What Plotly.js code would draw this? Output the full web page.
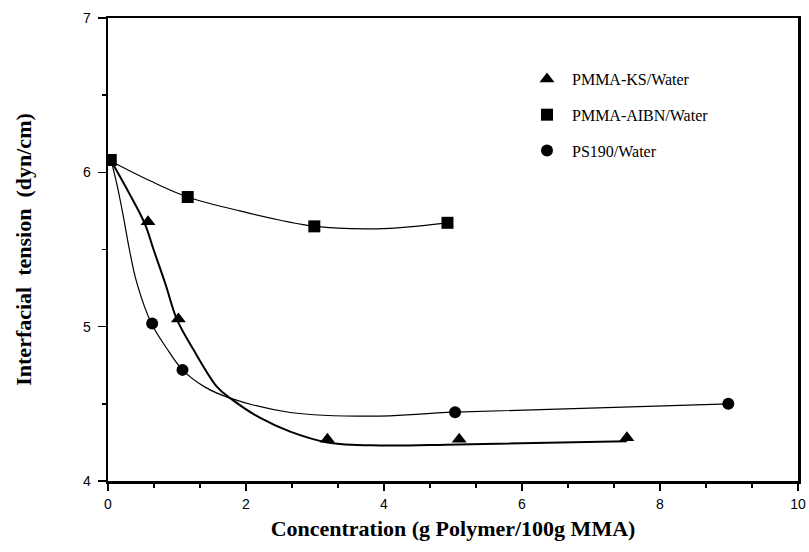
<!DOCTYPE html>
<html>
<head>
<meta charset="utf-8">
<script src="https://cdn.plot.ly/plotly-3.0.1.min.js"></script>
<style>html,body{margin:0;padding:0;background:#fff;}#chart{width:809px;height:552px;}</style>
</head>
<body>
<div id="chart"></div>
<script>
// Measured data points
const ksX = [0.58, 1.02, 3.18, 5.09, 7.52];
const ksY = [5.68, 5.05, 4.27, 4.27, 4.28];
const aibnX = [0.04, 1.155, 2.99, 4.92];
const aibnY = [6.08, 5.84, 5.65, 5.673];
const psX = [0.64, 1.08, 5.03, 8.99];
const psY = [5.02, 4.72, 4.445, 4.5];

// Fitted curves
const ksCurveX = [0.05, 0.3, 0.54, 0.66, 0.83, 1.0, 1.24, 1.58, 1.77, 2.2, 2.64, 3.18, 3.94, 5.08, 7.52];
const ksCurveY = [6.07, 5.87, 5.66, 5.5, 5.28, 5.045, 4.85, 4.61, 4.537, 4.41, 4.32, 4.25, 4.23, 4.237, 4.257];
const aibnCurveX = [0.05, 0.61, 1.155, 1.91, 2.99, 3.9, 4.92];
const aibnCurveY = [6.07, 5.945, 5.84, 5.75, 5.651, 5.634, 5.673];
const psCurveX = [0.05, 0.13, 0.22, 0.31, 0.42, 0.63, 0.85, 1.08, 1.4, 1.77, 2.64, 3.8, 5.03, 9.0];
const psCurveY = [6.07, 5.92, 5.72, 5.5, 5.28, 5.02, 4.86, 4.72, 4.61, 4.537, 4.444, 4.42, 4.446, 4.5];

const seriesNames = ['PMMA-KS/Water', 'PMMA-AIBN/Water', 'PS190/Water'];
const xTickVals = [0, 2, 4, 6, 8, 10];
const yTickVals = [4, 5, 6, 7];

const serif = 'Liberation Serif, Times New Roman, serif';
const sans = 'Liberation Sans, Arial, sans-serif';

const traces = [
  {x: psCurveX, y: psCurveY, mode: 'lines', line: {color: '#000', width: 1.2, shape: 'spline', smoothing: 1}, showlegend: false, hoverinfo: 'skip'},
  {x: ksCurveX, y: ksCurveY, mode: 'lines', line: {color: '#000', width: 2, shape: 'spline', smoothing: 1}, showlegend: false, hoverinfo: 'skip'},
  {x: aibnCurveX, y: aibnCurveY, mode: 'lines', line: {color: '#000', width: 1.2, shape: 'spline', smoothing: 1}, showlegend: false, hoverinfo: 'skip'},
  {x: ksX, y: ksY, mode: 'markers', name: seriesNames[0], legendgroup: 'a', marker: {symbol: 'triangle-up', size: 13, color: '#000'}},
  {x: aibnX, y: aibnY, mode: 'markers', name: seriesNames[1], legendgroup: 'b', marker: {symbol: 'square', size: 12, color: '#000'}},
  {x: psX, y: psY, mode: 'markers', name: seriesNames[2], legendgroup: 'c', marker: {symbol: 'circle', size: 12, color: '#000'}}
];

const layout = {
  width: 809, height: 552,
  margin: {l: 108, r: 11, t: 18, b: 71},
  paper_bgcolor: '#fff', plot_bgcolor: '#fff',
  showlegend: true,
  legend: {x: 0.6, y: 0.905, xanchor: 'left', yanchor: 'top', font: {family: serif, size: 16, color: '#000'}, tracegroupgap: 12, bgcolor: 'rgba(0,0,0,0)', itemwidth: 40},
  xaxis: {
    range: [0, 10], tickvals: xTickVals, ticktext: xTickVals.map(String),
    ticks: 'outside', ticklen: 7, tickwidth: 1.5, tickcolor: '#000',
    minor: {dtick: 2/3, ticks: 'outside', ticklen: 4, tickwidth: 1.5, tickcolor: '#000'},
    showline: true, linewidth: 2.5, linecolor: '#000', mirror: true,
    showgrid: false, zeroline: false, ticklabelstandoff: 2,
    tickfont: {family: sans, size: 14, color: '#000'},
    title: {text: 'Concentration (g Polymer/100g MMA)', font: {family: serif, size: 22, color: '#000', weight: 'bold'}, standoff: 10}
  },
  yaxis: {
    range: [4, 7], tickvals: yTickVals, ticktext: yTickVals.map(String),
    ticks: 'outside', ticklen: 8, tickwidth: 1.5, tickcolor: '#000',
    minor: {dtick: 0.5, ticks: 'outside', ticklen: 4, tickwidth: 1.5, tickcolor: '#000'},
    showline: true, linewidth: 2.5, linecolor: '#000', mirror: true,
    showgrid: false, zeroline: false, ticklabelstandoff: 4,
    tickfont: {family: sans, size: 14, color: '#000'},
    title: {text: 'Interfacial  tension  (dyn/cm)', font: {family: serif, size: 22, color: '#000', weight: 'bold'}, standoff: 45}
  }
};

Plotly.newPlot('chart', traces, layout, {displayModeBar: false, staticPlot: true});
</script>
</body>
</html>
